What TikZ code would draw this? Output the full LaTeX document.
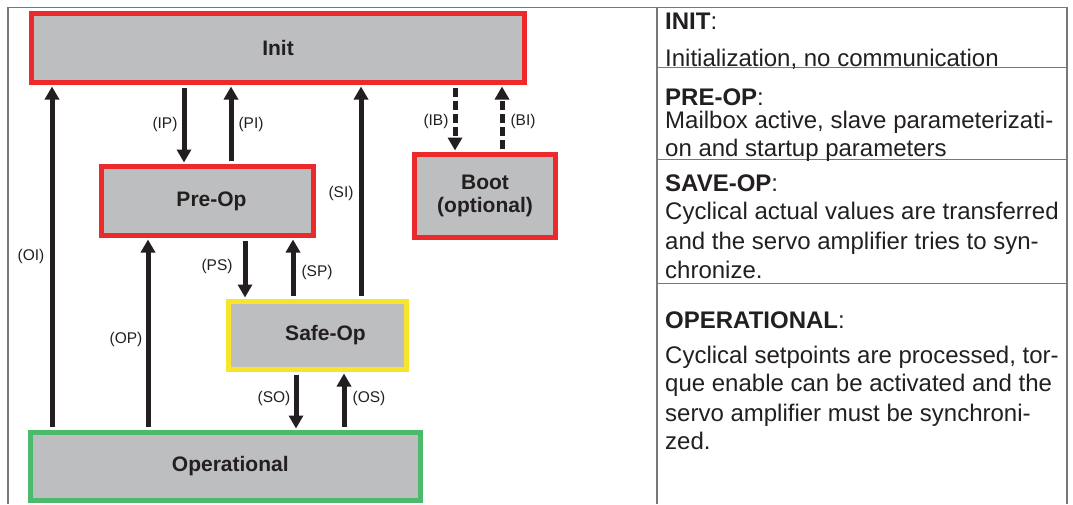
\documentclass[tikz,border=0pt]{standalone}
\usepackage{fontspec}
\setmainfont{Liberation Sans}
\usetikzlibrary{arrows.meta}
\definecolor{boxgray}{HTML}{BCBEC0}
\definecolor{redb}{HTML}{EC2A2B}
\definecolor{yellowb}{HTML}{F8E42A}
\definecolor{greenb}{HTML}{4DB96A}
\definecolor{arrowblack}{HTML}{231F20}
\definecolor{framegray}{HTML}{77787B}
\begin{document}
\begin{tikzpicture}[x=1pt,y=-1pt,
  state/.style={draw, line width=5pt, fill=boxgray, text=arrowblack,
    font=\fontsize{21}{23.5}\selectfont\bfseries, inner sep=0pt, align=center},
  arr/.style={line width=5pt, draw=arrowblack, shorten <=3pt, shorten >=1.5pt,
    -{Triangle[width=14pt,length=13pt]}},
  dasharr/.style={arr, dash pattern=on 9pt off 4pt},
  lab/.style={font=\fontsize{15.5}{18}\selectfont, inner sep=0pt, text=arrowblack},
  desc/.style={anchor=base west, inner sep=0pt, font=\fontsize{24}{29}\selectfont, text=arrowblack},
  frame/.style={draw=framegray, line width=1.5pt}]
\useasboundingbox (0,0) rectangle (1073,504);
% frame
\draw[frame] (8,504) -- (8,7.5) -- (1067,7.5) -- (1067,504);
\draw[frame] (657,7.5) -- (657,504);
\draw[frame] (657,67.5) -- (1067,67.5);
\draw[frame] (657,159.5) -- (1067,159.5);
\draw[frame] (657,283.5) -- (1067,283.5);
% states
\node[state, draw=redb, minimum width=493pt, minimum height=69pt] (init) at (278,48) {Init};
\node[state, draw=redb, minimum width=212pt, minimum height=69pt] (preop) at (207.5,201) {\hspace*{8pt}Pre-Op};
\node[state, draw=redb, minimum width=141pt, minimum height=83pt] (boot) at (485,196) {Boot\\(optional)};
\node[state, draw=yellowb, minimum width=178pt, minimum height=68pt] (safeop) at (317.5,335.5) {\hspace*{16pt}Safe-Op};
\node[state, draw=greenb, minimum width=390.5pt, minimum height=68pt] (oper) at (225.3,466.5) {\hspace*{10pt}Operational};
% transitions
\draw[arr] (init.south -| 184,0) -- (preop.north -| 184,0);
\draw[arr] (preop.north -| 231,0) -- (init.south -| 231,0);
\draw[arr] (oper.north -| 52,0) -- (init.south -| 52,0);
\draw[arr] (safeop.north -| 361,0) -- (init.south -| 361,0);
\draw[dasharr] (init.south -| 455,0) -- (boot.north -| 455,0);
\draw[dasharr] (boot.north -| 502,0) -- (init.south -| 502,0);
\draw[arr] (preop.south -| 245,0) -- (safeop.north -| 245,0);
\draw[arr] (safeop.north -| 293,0) -- (preop.south -| 293,0);
\draw[arr] (oper.north -| 148,0) -- (preop.south -| 148,0);
\draw[arr] (safeop.south -| 296,0) -- (oper.north -| 296,0);
\draw[arr] (oper.north -| 344,0) -- (safeop.south -| 344,0);
% labels
\node[lab] (lIP) at (165,124) {(IP)};
\node[lab] (lPI) at (251,124) {(PI)};
\node[lab] (lSI) at (341,193) {(SI)};
\node[lab] (lIB) at (436,121) {(IB)};
\node[lab] (lBI) at (523,121) {(BI)};
\node[lab] (lOI) at (31,256) {(OI)};
\node[lab] (lPS) at (217,266) {(PS)};
\node[lab] (lSP) at (317,272) {(SP)};
\node[lab] (lOP) at (126,339) {(OP)};
\node[lab] (lSO) at (274,398) {(SO)};
\node[lab] (lOS) at (369,398) {(OS)};
% description
\node[desc] (d1) at (665,29) {\textbf{INIT}:};
\node[desc] (d2) at (665,66) {Initialization, no communication};
\node[desc] (d3) at (665,105) {\textbf{PRE-OP}:};
\node[desc] (d4) at (665,128) {Mailbox active, slave parameterizati-};
\node[desc] (d5) at (665,156) {on and startup parameters};
\node[desc] (d6) at (665,191) {\textbf{SAVE-OP}:};
\node[desc] (d7) at (665,219) {Cyclical actual values are transferred};
\node[desc] (d8) at (665,249) {and the servo amplifier tries to syn-};
\node[desc] (d9) at (665,278) {chronize.};
\node[desc] (d10) at (665,328) {\textbf{OPERATIONAL}:};
\node[desc] (d11) at (665,363) {Cyclical setpoints are processed, tor-};
\node[desc] (d12) at (665,391) {que enable can be activated and the};
\node[desc] (d13) at (665,421) {servo amplifier must be synchroni-};
\node[desc] (d14) at (665,449) {zed.};
\end{tikzpicture}
\end{document}
